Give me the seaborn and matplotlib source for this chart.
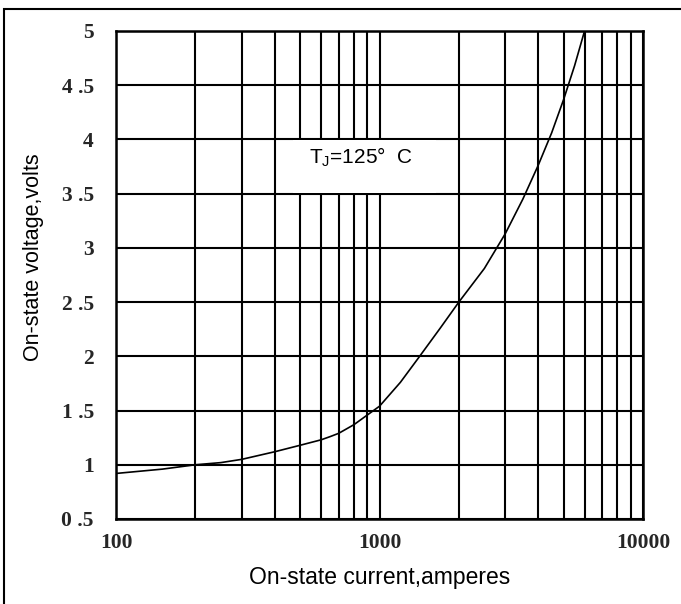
import numpy as np
import pandas as pd
import seaborn as sns
import matplotlib.pyplot as plt
from matplotlib.patches import Rectangle
from matplotlib.ticker import LogLocator, NullFormatter, FixedLocator

# Dados (corrente em A, tensão em V)
corrente = [100, 150, 200, 250, 300, 400, 500, 600, 650, 700, 800, 900, 1000,
            1200, 1420, 1700, 2000, 2500, 3000, 3500, 4000, 4500, 5000, 5500, 6000]
tensao = [0.92, 0.96, 1.00, 1.02, 1.05, 1.12, 1.18, 1.23, 1.26, 1.29, 1.37, 1.46, 1.54,
          1.76, 2.00, 2.26, 2.50, 2.81, 3.13, 3.45, 3.76, 4.06, 4.37, 4.68, 5.00]

y_ticks = [0.5, 1, 1.5, 2, 2.5, 3, 3.5, 4, 4.5, 5]
y_labels = ["0 .5", "1", "1 .5", "2", "2 .5", "3", "3 .5", "4", "4 .5", "5"]
x_ticks = [100, 1000, 10000]
x_labels = ["100", "1000", "10000"]

df = pd.DataFrame({"corrente": corrente, "tensao": tensao})

sns.set_theme(style="white")
plt.rcParams["font.family"] = ["Liberation Sans", "DejaVu Sans"]
plt.rcParams["mathtext.default"] = "regular"

fig = plt.figure(figsize=(6.81, 6.04), dpi=100)
ax = fig.add_axes([116 / 681, 1 - 519 / 604, 527 / 681, 488 / 604])

sns.lineplot(data=df, x="corrente", y="tensao", ax=ax, color="black",
             linewidth=1.2, zorder=4)

ax.set_xscale("log")
ax.set_xlim(100, 10000)
ax.set_ylim(0.5, 5)

# Grade: todas as linhas menores no eixo log
ax.xaxis.set_major_locator(FixedLocator(x_ticks))
ax.xaxis.set_minor_locator(LogLocator(base=10, subs=np.arange(2, 10)))
ax.xaxis.set_minor_formatter(NullFormatter())
ax.set_xticks(x_ticks)
ax.set_xticklabels(x_labels)
ax.set_yticks(y_ticks)
ax.set_yticklabels(y_labels)
ax.set_axisbelow(True)
ax.grid(which="both", color="black", linewidth=1.5)
ax.tick_params(which="both", length=0)
ax.tick_params(axis="x", pad=10)
ax.tick_params(axis="y", pad=16)
for lab in ax.get_xticklabels() + ax.get_yticklabels():
    lab.set_fontfamily("Liberation Serif")
    lab.set_fontweight("bold")
    lab.set_fontsize(15.5)

for s in ax.spines.values():
    s.set_color("black")
    s.set_linewidth(1.8)

ax.set_xlabel("On-state current,amperes", fontsize=16.5, color="black")
ax.set_ylabel("On-state voltage,volts", fontsize=15.5, color="black")
ax.xaxis.set_label_coords(0.5, -(566 - 519) / 488)
ax.yaxis.set_label_coords(-(116 - 44) / 527, (519 - 257) / 488)

# Caixa branca da anotação
ax.add_patch(Rectangle((0.336, 0.668), 0.271, 0.109, transform=ax.transAxes,
                       facecolor="white", edgecolor="none", zorder=2))
ax.text(0.465, 0.742, "T$_J$=125°  C", transform=ax.transAxes, fontsize=15,
        ha="center", va="center", color="black", zorder=3)

# Moldura externa da figura
fig.patches.append(Rectangle((4 / 681, -0.1), 1.2, 1 - 9 / 604 + 0.1,
                             transform=fig.transFigure, fill=False,
                             edgecolor="black", linewidth=1.5))

plt.savefig("out.png", dpi=100)
plt.close()
